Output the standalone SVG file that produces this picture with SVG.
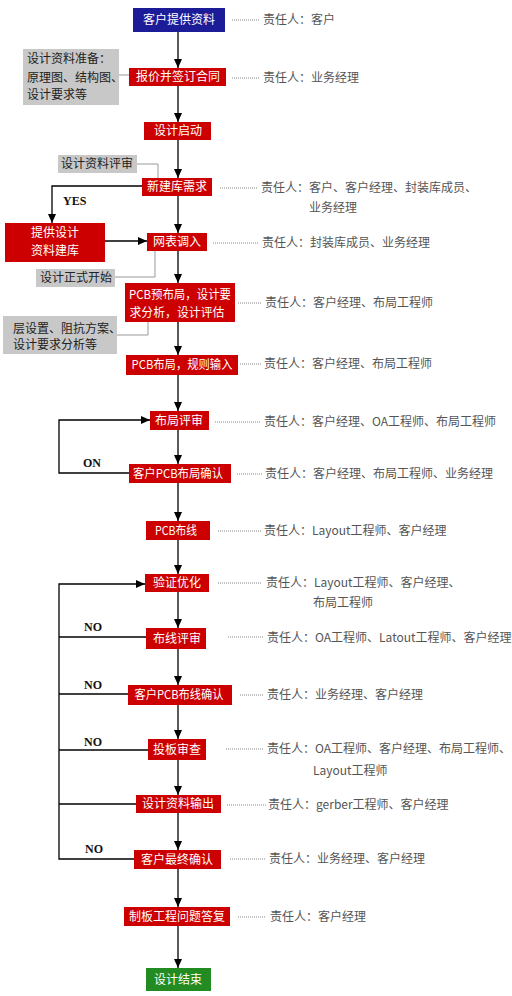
<svg xmlns="http://www.w3.org/2000/svg" width="512" height="996" viewBox="0 0 512 996">
<style>
.r{fill:#cc0000}
.b{fill:#1c1c99}
.g{fill:#228b22}
.gr{fill:#c8c8c8}
.wt{fill:#ffffff;font-family:"Noto Sans CJK SC","Noto Sans",sans-serif;font-size:12px;text-anchor:middle}
.bt{fill:#222222;font-family:"Noto Sans CJK SC","Noto Sans",sans-serif;font-size:12px}
.lt{fill:#555555;font-family:"Noto Sans CJK SC","Noto Sans",sans-serif;font-size:12px}
.yn{fill:#111111;font-family:"Liberation Serif",serif;font-size:12px;font-weight:bold}
.ln{stroke:#000;stroke-width:1.3;fill:none}
.gl{stroke:#999;stroke-width:1;fill:none}
.dl{stroke:#888;stroke-width:1;stroke-dasharray:1,1;fill:none}
</style>
<defs>
<marker id="ah" markerUnits="userSpaceOnUse" markerWidth="9" markerHeight="8" refX="9" refY="4" orient="auto">
<path d="M0,0 L9,4 L0,8 z" fill="#000"/>
</marker>
</defs>
<rect width="512" height="996" fill="#ffffff"/>

<g id="connectors">
<path class="ln" marker-end="url(#ah)" d="M178,32 V68"/>
<path class="ln" marker-end="url(#ah)" d="M178,86 V122"/>
<path class="ln" marker-end="url(#ah)" d="M178,140 V178"/>
<path class="ln" marker-end="url(#ah)" d="M178,196 V233"/>
<path class="ln" marker-end="url(#ah)" d="M178,251 V283"/>
<path class="ln" marker-end="url(#ah)" d="M178,322 V355"/>
<path class="ln" marker-end="url(#ah)" d="M178,375 V411"/>
<path class="ln" marker-end="url(#ah)" d="M178,430 V464"/>
<path class="ln" marker-end="url(#ah)" d="M178,483 V521"/>
<path class="ln" marker-end="url(#ah)" d="M178,540 V574"/>
<path class="ln" marker-end="url(#ah)" d="M178,592 V628"/>
<path class="ln" marker-end="url(#ah)" d="M178,649 V685"/>
<path class="ln" marker-end="url(#ah)" d="M178,705 V739"/>
<path class="ln" marker-end="url(#ah)" d="M178,760 V795"/>
<path class="ln" marker-end="url(#ah)" d="M178,813 V850"/>
<path class="ln" marker-end="url(#ah)" d="M178,869 V907"/>
<path class="ln" marker-end="url(#ah)" d="M178,926 V968"/>
<!-- YES branch -->
<path class="ln" marker-end="url(#ah)" d="M142,186 H52 V223"/>
<path class="ln" marker-end="url(#ah)" d="M105,241 H147"/>
<!-- loop 1 -->
<path class="ln" marker-end="url(#ah)" d="M129,473 H59 V420 H150"/>
<!-- loop 2 -->
<path class="ln" marker-end="url(#ah)" d="M134,859 H59 V584 H145"/>
<path class="ln" d="M146,637 H59"/>
<path class="ln" d="M128,694 H59"/>
<path class="ln" d="M148,750 H59"/>
<path class="ln" d="M136,804 H59"/>
<!-- grey notes -->
<path class="gl" d="M119,75 H129"/>
<path class="gl" d="M137,164 H158 V178"/>
<path class="gl" d="M115,277 H155 V251"/>
<path class="gl" d="M117,335 H148 V322"/>
<!-- dotted leaders -->
<path class="dl" d="M232,20 H259"/>
<path class="dl" d="M232,78 H259"/>
<path class="dl" d="M220,188 H258"/>
<path class="dl" d="M213,243 H258"/>
<path class="dl" d="M238,303 H262"/>
<path class="dl" d="M240,364 H262"/>
<path class="dl" d="M215,422 H261"/>
<path class="dl" d="M237,474 H262"/>
<path class="dl" d="M218,531 H262"/>
<path class="dl" d="M218,583 H262"/>
<path class="dl" d="M228,637 H264"/>
<path class="dl" d="M240,695 H264"/>
<path class="dl" d="M226,749 H264"/>
<path class="dl" d="M227,805 H266"/>
<path class="dl" d="M230,859 H266"/>
<path class="dl" d="M238,917 H266"/>
<!-- labels -->
<text class="yn" x="63" y="205">YES</text>
<text class="yn" x="83" y="467">ON</text>
<text class="yn" x="84" y="631">NO</text>
<text class="yn" x="84" y="689">NO</text>
<text class="yn" x="84" y="746">NO</text>
<text class="yn" x="85" y="853">NO</text>
</g>

<g id="n1"><rect class="b" x="133" y="8" width="92" height="24"/><text class="wt" x="179" y="24">客户提供资料</text><text class="lt" x="263" y="24">责任人：客户</text></g>
<g id="n2"><rect class="r" x="129" y="68" width="97" height="18"/><text class="wt" x="178" y="81">报价并签订合同</text><text class="lt" x="263" y="82">责任人：业务经理</text></g>
<g id="n3"><rect class="r" x="144" y="122" width="67" height="18"/><text class="wt" x="178" y="135">设计启动</text></g>
<g id="n4"><rect class="r" x="142" y="178" width="70" height="18"/><text class="wt" x="177" y="191">新建库需求</text><text class="lt" x="261" y="192">责任人：客户、客户经理、封装库成员、</text><text class="lt" x="309" y="212">业务经理</text></g>
<g id="n5"><rect class="r" x="5" y="223" width="100" height="39"/><text class="wt" x="55" y="237">提供设计</text><text class="wt" x="55" y="255">资料建库</text></g>
<g id="n6"><rect class="r" x="147" y="233" width="60" height="18"/><text class="wt" x="177" y="246">网表调入</text><text class="lt" x="262" y="247">责任人：封装库成员、业务经理</text></g>
<g id="n7"><rect class="r" x="125" y="283" width="110" height="39"/><text class="wt" x="180" y="299" textLength="102" lengthAdjust="spacingAndGlyphs">PCB预布局，设计要</text><text class="wt" x="177" y="317" textLength="95" lengthAdjust="spacingAndGlyphs">求分析，设计评估</text><text class="lt" x="265" y="307">责任人：客户经理、布局工程师</text></g>
<g id="n8"><rect class="r" x="126" y="355" width="112" height="20"/><text class="wt" x="182" y="369" textLength="101" lengthAdjust="spacingAndGlyphs">PCB布局，规则输入</text><text class="lt" x="264" y="368">责任人：客户经理、布局工程师</text></g>
<g id="n9"><rect class="r" x="150" y="411" width="59" height="19"/><text class="wt" x="179" y="425">布局评审</text><text class="lt" x="264" y="426">责任人：客户经理、OA工程师、布局工程师</text></g>
<g id="n10"><rect class="r" x="129" y="464" width="102" height="19"/><text class="wt" x="178" y="478" textLength="90" lengthAdjust="spacingAndGlyphs">客户PCB布局确认</text><text class="lt" x="265" y="478">责任人：客户经理、布局工程师、业务经理</text></g>
<g id="n11"><rect class="r" x="146" y="521" width="64" height="19"/><text class="wt" x="176" y="535" textLength="42" lengthAdjust="spacingAndGlyphs">PCB布线</text><text class="lt" x="264" y="535">责任人：Layout工程师、客户经理</text></g>
<g id="n12"><rect class="r" x="145" y="574" width="64" height="18"/><text class="wt" x="177" y="587">验证优化</text><text class="lt" x="266" y="587">责任人：Layout工程师、客户经理、</text><text class="lt" x="313" y="607">布局工程师</text></g>
<g id="n13"><rect class="r" x="146" y="628" width="60" height="21"/><text class="wt" x="177" y="643">布线评审</text><text class="lt" x="267" y="642">责任人：OA工程师、Latout工程师、客户经理</text></g>
<g id="n14"><rect class="r" x="128" y="685" width="104" height="20"/><text class="wt" x="179" y="699" textLength="89" lengthAdjust="spacingAndGlyphs">客户PCB布线确认</text><text class="lt" x="267" y="699">责任人：业务经理、客户经理</text></g>
<g id="n15"><rect class="r" x="148" y="739" width="58" height="21"/><text class="wt" x="177" y="754">投板审查</text><text class="lt" x="267" y="753">责任人：OA工程师、客户经理、布局工程师、</text><text class="lt" x="313" y="775">Layout工程师</text></g>
<g id="n16"><rect class="r" x="136" y="795" width="85" height="18"/><text class="wt" x="178" y="808">设计资料输出</text><text class="lt" x="268" y="809">责任人：gerber工程师、客户经理</text></g>
<g id="n17"><rect class="r" x="134" y="850" width="87" height="19"/><text class="wt" x="177" y="864">客户最终确认</text><text class="lt" x="269" y="863">责任人：业务经理、客户经理</text></g>
<g id="n18"><rect class="r" x="124" y="907" width="106" height="19"/><text class="wt" x="177" y="921">制板工程问题答复</text><text class="lt" x="270" y="921">责任人：客户经理</text></g>
<g id="n19"><rect class="g" x="146" y="968" width="65" height="23"/><text class="wt" x="178" y="984">设计结束</text></g>

<g id="note1"><rect class="gr" x="23" y="49" width="96" height="56"/><text class="bt" x="27" y="63">设计资料准备：</text><text class="bt" x="27" y="82">原理图、结构图、</text><text class="bt" x="27" y="99">设计要求等</text></g>
<g id="note2"><rect class="gr" x="58" y="155" width="79" height="18"/><text class="bt" x="97" y="168" text-anchor="middle">设计资料评审</text></g>
<g id="note3"><rect class="gr" x="36" y="269" width="79" height="18"/><text class="bt" x="76" y="282" text-anchor="middle">设计正式开始</text></g>
<g id="note4"><rect class="gr" x="3" y="316" width="114" height="38"/><text class="bt" x="13" y="333">层设置、阻抗方案、</text><text class="bt" x="13" y="349">设计要求分析等</text></g>
</svg>
